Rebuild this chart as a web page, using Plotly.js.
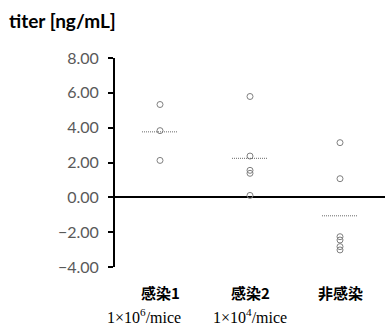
<!DOCTYPE html>
<html><head><meta charset="utf-8">
<script src="https://cdn.plot.ly/plotly-3.0.1.min.js"></script>
<style>html,body{margin:0;padding:0;background:#fff}#chart{width:385px;height:325px}</style>
</head><body><div id="chart"></div>
<script>
const categories = ["感染1", "感染2", "非感染"];
const doseLabels = ["1×10<sup>6</sup>/mice", "1×10<sup>4</sup>/mice", ""];
const group1 = [5.33, 3.83, 2.12];
const group2 = [5.79, 2.37, 1.55, 1.38, 0.11];
const group3 = [3.14, 1.07, -2.26, -2.45, -2.83, -3.02];
const groupMeans = [3.76, 2.24, -1.06];
const yTicks = [-4, -2, 0, 2, 4, 6, 8];

const groups = [group1, group2, group3];
const traces = [];
groups.forEach((g, i) => {
  traces.push({
    type: 'scatter', mode: 'markers',
    x: g.map(() => i), y: g,
    marker: {symbol: 'circle-open', size: 6, color: '#7f7f7f', line: {width: 1, color: '#7f7f7f'}},
    hoverinfo: 'skip', showlegend: false
  });
  traces.push({
    type: 'scatter', mode: 'lines',
    x: [i - 0.2, i + 0.2], y: [groupMeans[i], groupMeans[i]],
    line: {color: '#6a6a6a', width: 1, dash: '1px,1px'},
    hoverinfo: 'skip', showlegend: false
  });
});

const doseShift = [-16, 0, 0];
const annotations = [];
categories.forEach((c, i) => {
  annotations.push({x: i, y: 0, xref: 'x', yref: 'paper', yshift: -38, text: '<b>' + c + '</b>',
    showarrow: false, font: {family: 'Noto Sans CJK JP', size: 15, color: '#000'}});
  if (doseLabels[i]) annotations.push({x: i, y: 0, xref: 'x', yref: 'paper', yshift: -61, xshift: doseShift[i],
    text: doseLabels[i], showarrow: false, font: {family: 'Liberation Serif', size: 16, color: '#000'}});
});
annotations.push({x: 0, y: 1, xref: 'paper', yref: 'paper', xanchor: 'left', yanchor: 'middle',
  xshift: -108, yshift: 38, text: '<b>titer [ng/mL]</b>', showarrow: false,
  font: {family: 'Lato', size: 19, color: '#000'}});

const layout = {
  width: 385, height: 325,
  margin: {l: 115, r: 0, t: 58, b: 58},
  paper_bgcolor: '#fff', plot_bgcolor: '#fff',
  showlegend: false,
  xaxis: {range: [-0.5, 2.5], showgrid: false, zeroline: false, showline: false,
    showticklabels: false, ticks: '', fixedrange: true},
  yaxis: {range: [-4, 8], tickvals: yTicks, tickformat: '.2f', showgrid: false,
    zeroline: true, zerolinecolor: '#000', zerolinewidth: 2,
    showline: true, linecolor: '#000', linewidth: 2,
    ticks: 'outside', ticklen: 5, tickwidth: 2, tickcolor: '#000',
    tickfont: {family: 'Lato', size: 16, color: '#595959'}, ticklabelstandoff: 6},
  annotations: annotations
};
Plotly.newPlot('chart', traces, layout, {staticPlot: true, displayModeBar: false});
</script></body></html>
